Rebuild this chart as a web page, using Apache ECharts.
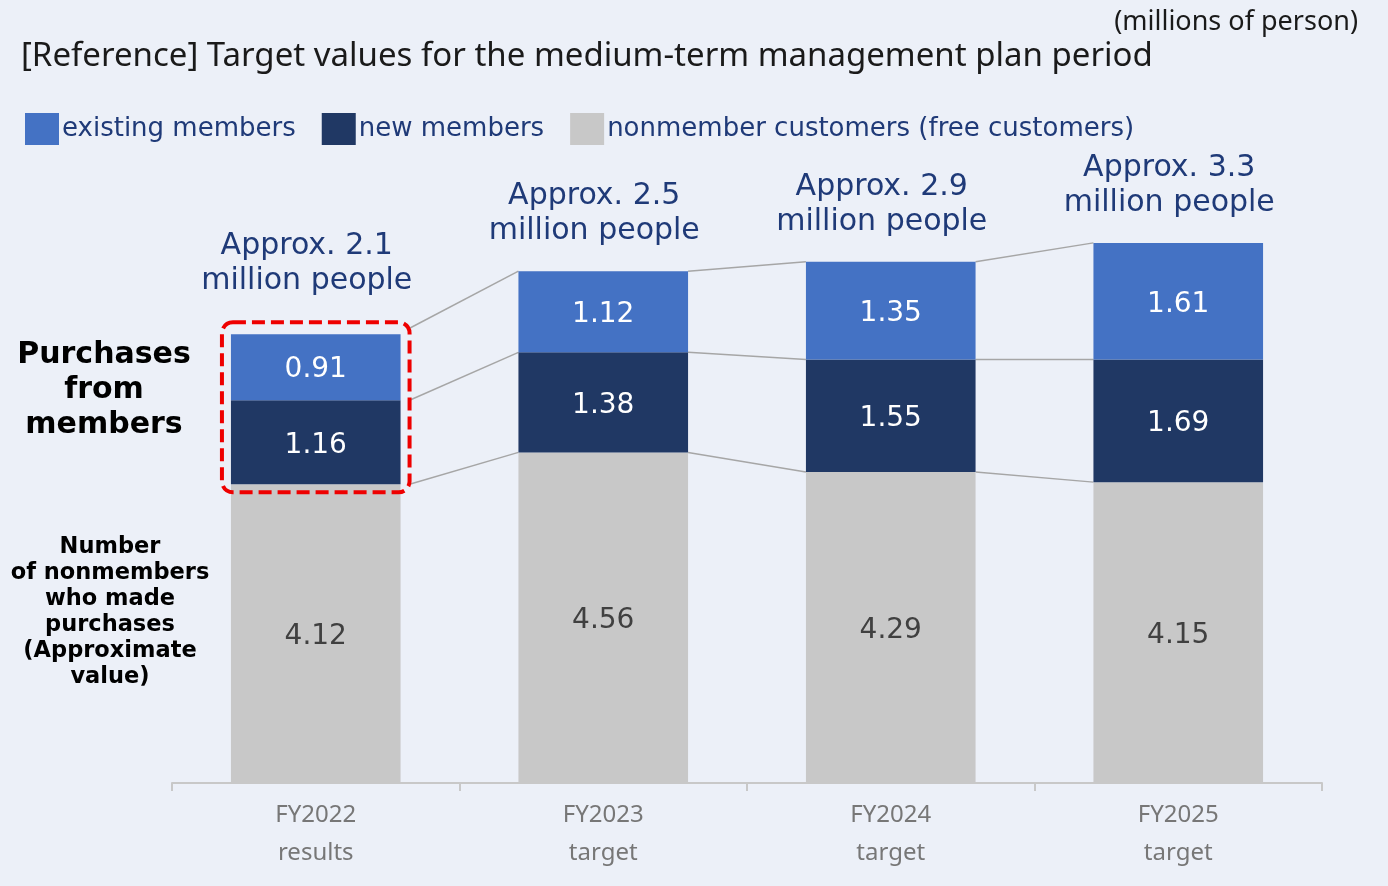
<!DOCTYPE html>
<html>
<head>
<meta charset="utf-8"/>
<title>Target values chart</title>
<script src="https://cdn.jsdelivr.net/npm/echarts@6/dist/echarts.min.js"></script>
<style>
  html, body { margin: 0; padding: 0; background: #ecf0f8; }
</style>
</head>
<body>
<div id="main" style="width:1388px;height:886px;"></div>
<script type="text/javascript">
// data
var years = ['FY2022', 'FY2023', 'FY2024', 'FY2025'];
var yearNotes = ['results', 'target', 'target', 'target'];
var nonmembers = [4.12, 4.56, 4.29, 4.15];
var newMembers = [1.16, 1.38, 1.55, 1.69];
var existingMembers = [0.91, 1.12, 1.35, 1.61];
var totalLabels = ['Approx. 2.1\nmillion people', 'Approx. 2.5\nmillion people',
                   'Approx. 2.9\nmillion people', 'Approx. 3.3\nmillion people'];

var FONT = 'Noto Sans';
var WIDE = 'DejaVu Sans';
var BAR_RATIO = 0.59;

// cumulative tops of each layer
var lvl1 = nonmembers;
var lvl2 = nonmembers.map(function (v, i) { return v + newMembers[i]; });
var lvl3 = lvl2.map(function (v, i) { return v + existingMembers[i]; });

var dom = document.getElementById('main');
var myChart = echarts.init(dom);

function segLabel(color) {
    return {
        show: true,
        position: 'inside',
        offset: [0, 3],
        color: color,
        fontSize: 28,
        fontFamily: WIDE,
        formatter: function (p) { return p.value.toFixed(2); }
    };
}

var option = {
    backgroundColor: '#ecf0f8',
    animation: false,
    textStyle: { fontFamily: FONT },
    title: [{
        text: '[Reference] Target values for the medium-term management plan period',
        left: 16, top: 35,
        textStyle: { fontSize: 33, fontWeight: 'normal', color: '#1a1a1a', fontFamily: FONT }
    }, {
        text: '(millions of person)',
        right: 25, top: 4,
        textStyle: { fontSize: 27, fontWeight: 'normal', color: '#1a1a1a', fontFamily: FONT }
    }],
    legend: {
        left: 20, top: 108,
        itemWidth: 34, itemHeight: 32, itemGap: 26,
        icon: 'rect',
        data: ['existing members', 'new members', 'nonmember customers (free customers)'],
        textStyle: { fontSize: 26, color: '#1f3a78', fontFamily: WIDE, padding: [4, 0, 0, -2] }
    },
    grid: { left: 172, right: 66, top: 203, bottom: 103 },
    xAxis: {
        type: 'category',
        data: years,
        axisLine: { lineStyle: { color: '#c8c8c8', width: 2 } },
        axisTick: { show: true, length: 8, lineStyle: { color: '#c8c8c8', width: 2 } },
        axisLabel: {
            margin: 13,
            formatter: function (v, i) { return '{a|' + v + '}\n{a|' + yearNotes[i] + '}'; },
            rich: { a: { fontSize: 24, lineHeight: 38, color: '#777777', fontFamily: FONT } }
        }
    },
    yAxis: { type: 'value', min: 0, max: 8, show: false, splitLine: { show: false } },
    graphic: [{
        type: 'text', x: 104, y: 390,
        style: {
            text: 'Purchases\nfrom\nmembers', align: 'center', verticalAlign: 'middle',
            font: 'bold 30px "DejaVu Sans"', lineHeight: 35, fill: '#000'
        }
    }, {
        type: 'text', x: 110, y: 612,
        style: {
            text: 'Number\nof nonmembers\nwho made\npurchases\n(Approximate\nvalue)',
            align: 'center', verticalAlign: 'middle',
            font: 'bold 22.5px "DejaVu Sans"', lineHeight: 26, fill: '#000'
        }
    }],
    series: [{
        name: 'nonmember customers (free customers)',
        type: 'bar', stack: 'all', barWidth: (BAR_RATIO * 100) + '%',
        data: nonmembers,
        itemStyle: { color: '#c8c8c8' },
        label: segLabel('#404040')
    }, {
        name: 'new members',
        type: 'bar', stack: 'all',
        data: newMembers,
        itemStyle: { color: '#203864' },
        label: segLabel('#ffffff')
    }, {
        name: 'existing members',
        type: 'bar', stack: 'all',
        data: existingMembers,
        itemStyle: { color: '#4472c4' },
        label: segLabel('#ffffff')
    }, {
        // connector lines between bars
        name: 'connectors',
        type: 'custom',
        z: 1,
        silent: true,
        data: [0, 1, 2],
        encode: { x: 0 },
        renderItem: function (params, api) {
            var i = api.value(0);
            var half = api.size([1, 0])[0] * BAR_RATIO / 2;
            var startPad = i === 0 ? 9 : 0;
            var children = [lvl1, lvl2, lvl3].map(function (lv) {
                var a = api.coord([i, lv[i]]);
                var b = api.coord([i + 1, lv[i + 1]]);
                return {
                    type: 'line',
                    shape: { x1: a[0] + half + startPad, y1: a[1] - (i === 0 && lv === lvl3 ? 6 : 0),
                             x2: b[0] - half, y2: b[1] },
                    style: { stroke: '#a6a6a6', lineWidth: 1.5 }
                };
            });
            return { type: 'group', children: children };
        }
    }, {
        // totals above bars
        name: 'totals',
        type: 'custom',
        silent: true,
        data: [0, 1, 2, 3],
        encode: { x: 0 },
        renderItem: function (params, api) {
            var i = api.value(0);
            var p = api.coord([i, lvl3[i]]);
            return {
                type: 'text',
                x: p[0] - 9, y: p[1] - (i === 0 ? 36 : 22),
                style: {
                    text: totalLabels[i], align: 'center', verticalAlign: 'bottom',
                    font: '30px "DejaVu Sans"', lineHeight: 35, fill: '#1f3a78'
                }
            };
        }
    }, {
        // red dashed highlight around FY2022 member purchases
        name: 'highlight',
        type: 'custom',
        silent: true,
        z: 5,
        data: [0],
        encode: { x: 0 },
        renderItem: function (params, api) {
            var half = api.size([1, 0])[0] * BAR_RATIO / 2;
            var top = api.coord([0, lvl3[0]]);
            var bot = api.coord([0, lvl1[0]]);
            return {
                type: 'rect',
                shape: { x: top[0] - half - 9, y: top[1] - 12, width: half * 2 + 18,
                         height: bot[1] - top[1] + 20, r: 11 },
                style: { fill: 'none', stroke: '#ee0000', lineWidth: 4, lineDash: [13, 6] }
            };
        }
    }]
};

myChart.setOption(option);
</script>
</body>
</html>
